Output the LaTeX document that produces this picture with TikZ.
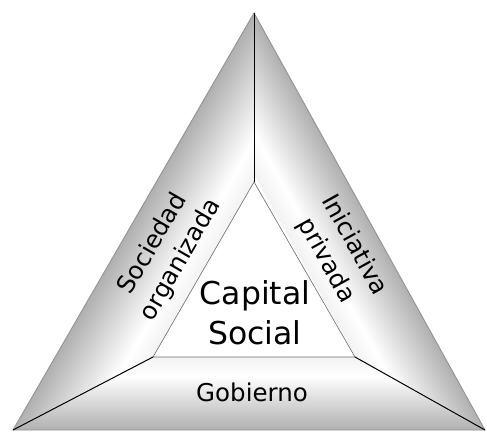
\documentclass[tikz,border=0pt]{standalone}
\usepackage{fontspec}
\setmainfont{DejaVu Sans}

\colorlet{bandout}{gray!62}
\colorlet{bandin}{gray!10}
\pgfdeclareverticalshading{bandshade}{100bp}{color(0bp)=(bandout); color(25bp)=(bandout);
  color(62bp)=(white); color(75bp)=(bandin); color(100bp)=(bandin)}

\begin{document}
\begin{tikzpicture}[x=1pt, y=1pt,
  rim/.style={draw=gray!85, line width=0.9pt, line join=round},
  spoke/.style={draw=black, line width=1pt},
  core/.style={draw=gray!85!black, line width=0.6pt},
  sidetext/.style={font=\fontsize{24.5}{32}\selectfont, align=center}
]
\useasboundingbox (0,0) rectangle (487,432);
\fill[white] (0,0) rectangle (487,432);

% outer and inner corners
\coordinate (A) at (13,2);
\coordinate (B) at (485,2);
\coordinate (C) at (254,419);
\coordinate (a) at (153,75);
\coordinate (b) at (355,75);
\coordinate (c) at (254,250);

% shaded bands, outer edge grey, inner edge light
\foreach \o/\p/\q/\r/\ang/\d in {A/B/b/a/0/73, B/C/c/b/119/78, C/A/a/c/240/85} {
  \begin{scope}
    \clip (\o) -- (\p) -- (\q) -- (\r) -- cycle;
    \shade[shading=bandshade, transform canvas={shift={(\o)}, rotate=\ang}]
      (-20,0) rectangle (500,\d);
  \end{scope}
}

\draw[rim] (A) -- (B) -- (C) -- cycle;
\draw[core] (a) -- (b) -- (c) -- cycle;
\foreach \u/\v in {A/a, B/b, C/c}
  \draw[spoke] (\u) -- (\v);

\node[sidetext] (gob) at (252,39.5) {Gobierno};
\node[sidetext, rotate=60] (soc) at (167,180) {Sociedad\\organizada};
\node[sidetext, rotate=-61] (ini) at (340,179) {Iniciativa\\privada};
\node[font=\fontsize{31.5}{40}\selectfont, align=center] (cap) at (255,119) {Capital\\Social};

\end{tikzpicture}
\end{document}
